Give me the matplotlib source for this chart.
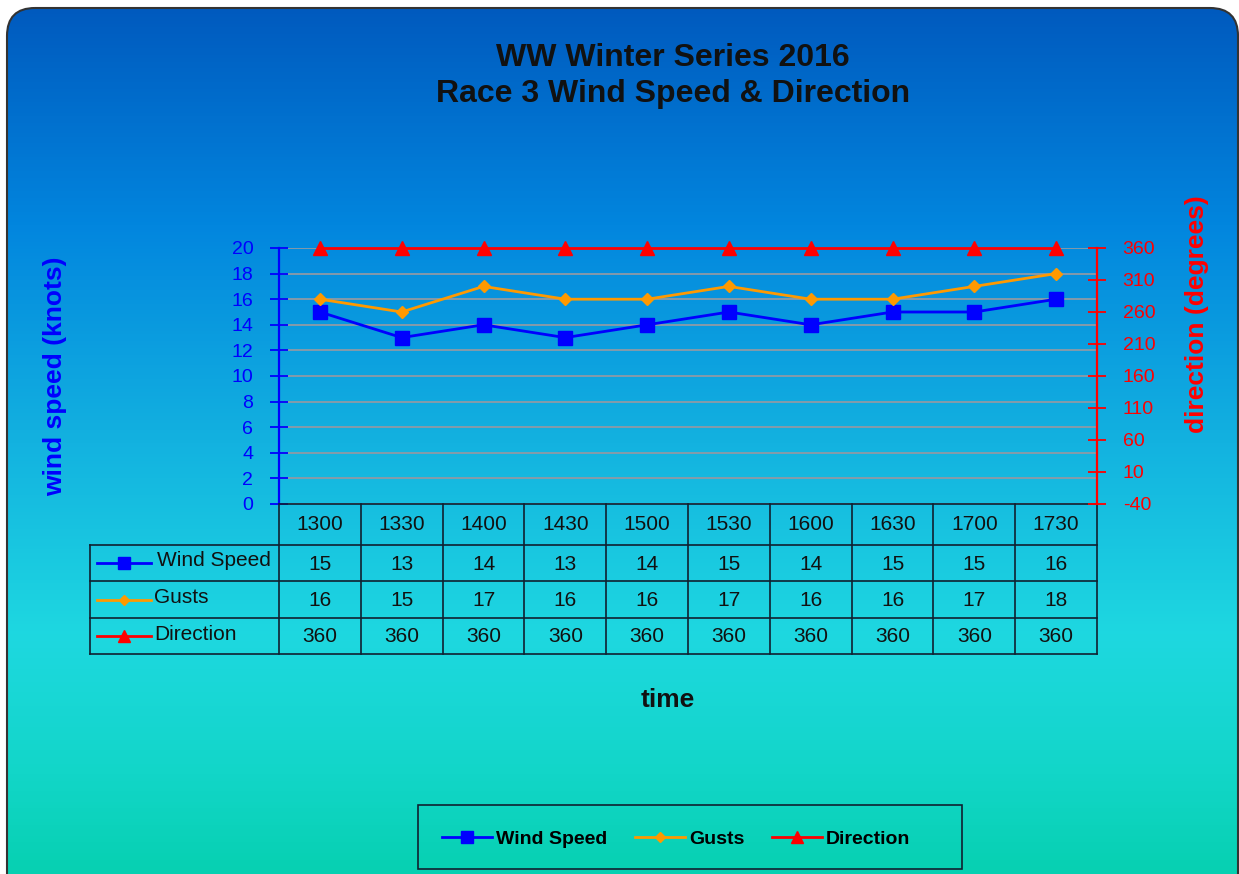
import numpy as np
import matplotlib
matplotlib.use("Agg")
import matplotlib.pyplot as plt
from matplotlib.colors import LinearSegmentedColormap
from matplotlib.patches import FancyBboxPatch, Rectangle
from matplotlib.lines import Line2D
from matplotlib.transforms import blended_transform_factory

plt.rcParams["font.family"] = ["Liberation Sans", "DejaVu Sans"]
plt.rcParams["axes.unicode_minus"] = False

# ── DATA ─────────────────────────────────────────────────────────
times     = ["1300", "1330", "1400", "1430", "1500", "1530", "1600", "1630", "1700", "1730"]
wind      = [15, 13, 14, 13, 14, 15, 14, 15, 15, 16]
gusts     = [16, 15, 17, 16, 16, 17, 16, 16, 17, 18]
direction = [360, 360, 360, 360, 360, 360, 360, 360, 360, 360]
left_ticks  = list(range(0, 21, 2))
right_ticks = list(range(-40, 361, 50))

series = [
    ("Wind Speed", wind,      "#0000FF", "s", 10),
    ("Gusts",      gusts,     "#FF9900", "D", 6.5),
    ("Direction",  direction, "#FF0000", "^", 10),
]

W, H = 1239, 874
fig = plt.figure(figsize=(W / 100, H / 100), dpi=100)

def fx(x):
    return x / W

def fy(y):
    return 1 - y / H

# ── BACKGROUND (rounded gradient panel) ─────────────────────────
bg = fig.add_axes([0, 0, 1, 1], zorder=-10)
bg.set_xlim(0, W)
bg.set_ylim(H, 0)
bg.axis("off")
cmap = LinearSegmentedColormap.from_list("panel", [
    (0.00, "#005ABE"),
    (0.25, "#0286DE"),
    (0.50, "#13B2E0"),
    (0.72, "#1ED8E0"),
    (0.88, "#12D6C8"),
    (1.00, "#06D0B0"),
])
grad = np.linspace(0, 1, 256).reshape(-1, 1)
img = bg.imshow(grad, cmap=cmap, aspect="auto", extent=[7, 1238, 880, 7], zorder=0)
panel = FancyBboxPatch((7, 8), 1231, 900, boxstyle="round,pad=0,rounding_size=28",
                       transform=bg.transData, facecolor="none", edgecolor="#333333",
                       linewidth=1.5, zorder=2)
bg.add_patch(panel)
img.set_clip_path(panel)

# ── MAIN PLOT ────────────────────────────────────────────────────
ax = fig.add_axes([fx(279), fy(504), (1097 - 279) / W, (504 - 248) / H])
ax.set_facecolor("none")
x = np.arange(len(times))
ax.set_xlim(-0.5, len(times) - 0.5)
ax.set_ylim(0, 20)
ax.set_yticks(left_ticks)
ax.set_xticks([])
ax.yaxis.grid(True, color="#8E9AA6", linewidth=1.3)
ax.set_axisbelow(True)

ax2 = ax.twinx()
ax2.set_ylim(-40, 360)
ax2.set_yticks(right_ticks)

for name, vals, col, mk, ms in series[:2]:
    ax.plot(x, vals, color=col, marker=mk, markersize=ms, linewidth=2, clip_on=False)
name, vals, col, mk, ms = series[2]
ax2.plot(x, vals, color=col, marker=mk, markersize=ms, linewidth=2, clip_on=False)

for a in (ax, ax2):
    a.spines["top"].set_visible(False)
ax.spines["right"].set_visible(False)
ax.spines["left"].set_color("#0000FF")
ax.spines["left"].set_linewidth(1.6)
ax.spines["bottom"].set_color("#102030")
ax.spines["bottom"].set_linewidth(1.2)
ax2.spines["left"].set_visible(False)
ax2.spines["bottom"].set_visible(False)
ax2.spines["right"].set_color("#FF0000")
ax2.spines["right"].set_linewidth(1.6)

ax.tick_params(axis="y", direction="inout", length=13, width=1.3, colors="#0000FF",
               labelsize=14, pad=12)
ax2.tick_params(axis="y", direction="inout", length=13, width=1.3, colors="#FF0000",
                labelsize=14, pad=12)

fig.text(fx(55), fy(376), "wind speed (knots)", color="#0000FF", fontsize=19,
         fontweight="bold", rotation=90, ha="center", va="center")
fig.text(fx(1197), fy(314), "direction (degrees)", color="#FF0000", fontsize=19,
         fontweight="bold", rotation=90, ha="center", va="center")

# ── DATA TABLE ───────────────────────────────────────────────────
tr = blended_transform_factory(ax.transData, bg.transData)
row_edges = [504, 545, 581, 618, 654]
for y in row_edges[1:]:
    bg.plot([90, 1097], [y, y], color="#102030", linewidth=1.2, zorder=3)
bg.plot([90, 90], [545, 654], color="#102030", linewidth=1.2, zorder=3)
for i in range(len(times) + 1):
    ax.plot([i - 0.5, i - 0.5], [504, 654], color="#102030", linewidth=1.2,
            transform=tr, clip_on=False)

for i, t in enumerate(times):
    ax.text(i, 525, t, transform=tr, ha="center", va="center", fontsize=15,
            color="#111111", clip_on=False)
    for r, (name, vals, col, mk, ms) in enumerate(series):
        yc = (row_edges[r + 1] + row_edges[r + 2]) / 2
        ax.text(i, yc + 1, str(vals[i]), transform=tr, ha="center", va="center",
                fontsize=15, color="#111111", clip_on=False)

for r, (name, vals, col, mk, ms) in enumerate(series):
    yc = (row_edges[r + 1] + row_edges[r + 2]) / 2
    bg.plot([97, 151], [yc, yc], color=col, linewidth=2, zorder=4)
    bg.plot([124], [yc], color=col, marker=mk, markersize=ms * 0.85, zorder=5)
    bg.text(154 if r else 157, yc - 2, name, fontsize=15, color="#111111",
            ha="left", va="center", zorder=5)

# ── TITLES ───────────────────────────────────────────────────────
fig.text(fx(673), fy(76), "WW Winter Series 2016\nRace 3 Wind Speed & Direction",
         ha="center", va="center", fontsize=23, fontweight="bold",
         color="#111111", linespacing=1.28)
fig.text(fx(668), fy(700), "time", ha="center", va="center", fontsize=19,
         fontweight="bold", color="#111111")

# ── LEGEND ───────────────────────────────────────────────────────
bg.add_patch(Rectangle((418, 805), 544, 64, facecolor="none",
                       edgecolor="#102030", linewidth=1.2, zorder=3))
handles = [Line2D([], [], color=col, marker=mk, markersize=ms * 0.85, linewidth=2)
           for name, vals, col, mk, ms in series]
fig.legend(handles, [s[0] for s in series], loc="center",
           bbox_to_anchor=(fx(676), fy(839)), ncol=3, frameon=False,
           prop={"weight": "bold", "size": 14}, handlelength=2.6,
           handletextpad=0.2, columnspacing=1.4)

fig.savefig("out.png", dpi=100)
